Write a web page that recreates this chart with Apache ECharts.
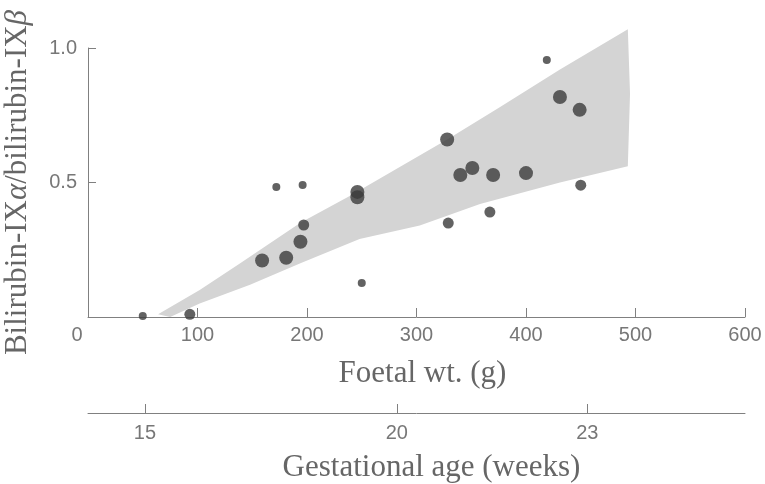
<!DOCTYPE html>
<html>
<head>
<meta charset="utf-8">
<script src="https://cdn.jsdelivr.net/npm/echarts@6/dist/echarts.min.js"></script>
<style>
  html, body { margin: 0; padding: 0; background: #fff; }
  #chart { width: 765px; height: 484px; }
</style>
</head>
<body>
<div id="chart"></div>
<script>
// foetal weight (g) vs bilirubin-IXa / bilirubin-IXb ratio
var bigWeight = [159, 181, 194, 246, 246, 328, 340, 351, 370, 400, 431, 449];
var bigRatio = [0.21, 0.22, 0.28, 0.465, 0.445, 0.66, 0.528, 0.554, 0.528, 0.535, 0.818, 0.77];

var midWeight = [93, 197, 329, 367, 450];
var midRatio = [0.01, 0.342, 0.349, 0.39, 0.49];

var smallWeight = [50, 172, 196, 250, 419];
var smallRatio = [0.004, 0.483, 0.491, 0.126, 0.955];

// outline of the shaded band (weight, ratio)
var bandWeight = [64, 102, 139, 194, 239, 328, 376, 431, 493, 495, 493, 431, 358, 303, 248, 194, 148, 102, 75];
var bandRatio = [0.01, 0.10, 0.20, 0.35, 0.45, 0.66, 0.78, 0.92, 1.07, 0.83, 0.56, 0.50, 0.42, 0.34, 0.29, 0.20, 0.12, 0.05, 0];

// gestational age scale, placed at the matching foetal weight
var ageWeeks = [15, 20, 23];
var ageAtWeight = [52, 282, 456];

function pairs(xs, ys) {
  return xs.map(function (x, i) { return [x, ys[i]]; });
}

var chart = echarts.init(document.getElementById("chart"));

var labelFont = "Liberation Sans";
var titleFont = "Liberation Serif";
var axisColor = "#808080";

chart.setOption({
  animation: false,
  grid: { left: 88, right: 20, top: 48, bottom: 167, outerBoundsMode: "none" },
  xAxis: [
    {
      type: "value",
      min: 0,
      max: 600,
      interval: 100,
      splitLine: { show: false },
      axisLine: { lineStyle: { color: axisColor, width: 1 } },
      axisTick: { inside: true, length: 9, lineStyle: { color: axisColor } },
      axisLabel: {
        margin: 8,
        color: "#777",
        fontFamily: labelFont,
        fontSize: 20,
        formatter: function (v) {
          return v === 0 ? "{z|0}" : String(v);
        },
        rich: {
          z: { padding: [0, 22, 0, 0], color: "#777", fontFamily: labelFont, fontSize: 20 }
        }
      },
      name: "Foetal wt. (g)",
      nameLocation: "middle",
      nameGap: 41,
      nameTextStyle: { fontFamily: titleFont, fontSize: 31, color: "#666", padding: [0, 0, 0, 12] }
    },
    {
      type: "value",
      position: "bottom",
      offset: 96,
      min: 0,
      max: 600,
      splitLine: { show: false },
      axisLine: { onZero: false, lineStyle: { color: axisColor, width: 1 } },
      axisTick: { inside: true, length: 9, customValues: ageAtWeight, lineStyle: { color: axisColor } },
      axisLabel: {
        margin: 10,
        color: "#777",
        fontFamily: labelFont,
        fontSize: 20,
        customValues: ageAtWeight,
        formatter: function (v) {
          var i = ageAtWeight.indexOf(v);
          return i >= 0 ? String(ageWeeks[i]) : "";
        }
      },
      name: "Gestational age (weeks)",
      nameLocation: "middle",
      nameGap: 39,
      nameTextStyle: { fontFamily: titleFont, fontSize: 31, color: "#666", padding: [0, 0, 0, 30] }
    }
  ],
  yAxis: {
    type: "value",
    min: 0,
    max: 1,
    interval: 0.5,
    splitLine: { show: false },
    axisLine: { lineStyle: { color: axisColor, width: 1 } },
    axisTick: { inside: true, length: 8, lineStyle: { color: axisColor } },
    axisLabel: {
      margin: 11,
      color: "#777",
      fontFamily: labelFont,
      fontSize: 20,
      formatter: function (v) {
        return v === 0 ? "" : v.toFixed(1);
      }
    },
    name: "{n|Bilirubin-IX}{g|α}{n|/bilirubin-IX}{g|β}",
    nameLocation: "middle",
    nameGap: 55,
    nameTextStyle: {
      rich: {
        n: { fontFamily: titleFont, fontSize: 31, color: "#666" },
        g: { fontFamily: titleFont, fontSize: 31, color: "#666", fontStyle: "italic" }
      }
    }
  },
  series: [
    {
      type: "custom",
      clip: false,
      z: 1,
      silent: true,
      data: [0],
      renderItem: function (params, api) {
        var pts = pairs(bandWeight, bandRatio).map(function (p) {
          return api.coord(p);
        });
        return {
          type: "polygon",
          shape: { points: pts },
          style: { fill: "#d4d4d4" }
        };
      }
    },
    {
      type: "scatter",
      z: 3,
      symbolSize: 14,
      itemStyle: { color: "#3b3b3b" },
      data: pairs(bigWeight, bigRatio)
    },
    {
      type: "scatter",
      z: 3,
      symbolSize: 11,
      itemStyle: { color: "#3b3b3b" },
      data: pairs(midWeight, midRatio)
    },
    {
      type: "scatter",
      z: 3,
      symbolSize: 8,
      itemStyle: { color: "#3b3b3b" },
      data: pairs(smallWeight, smallRatio)
    }
  ]
});
</script>
</body>
</html>
